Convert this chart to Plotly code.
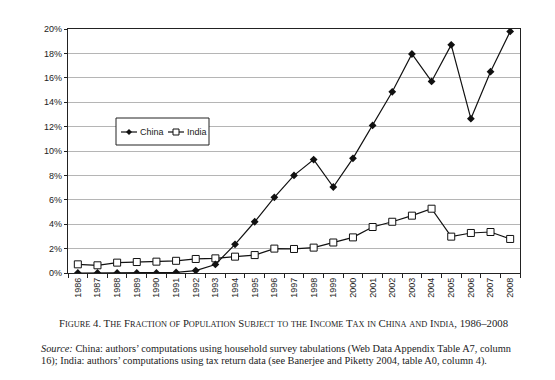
import plotly.graph_objects as go

years = [str(y) for y in range(1986, 2009)]
china = [0.0, 0.0, 0.0, 0.0, 0.0, 0.05, 0.2, 0.7, 2.35, 4.2, 6.2, 8.0, 9.3, 7.05,
         9.4, 12.1, 14.85, 17.95, 15.7, 18.7, 12.65, 16.5, 19.8]
india = [0.71, 0.63, 0.85, 0.9, 0.93, 1.0, 1.15, 1.2, 1.34, 1.47, 2.0, 1.97, 2.08, 2.5,
         2.92, 3.77, 4.2, 4.7, 5.27, 2.98, 3.28, 3.36, 2.79]
y_ticks = list(range(0, 21, 2))
y_tick_labels = [f"{v}%" for v in y_ticks]

W, H = 555, 380
L, R, T, B = 60, 43, 21, 115
PW, PH = W - L - R, H - T - B

def px(x):
    return (x - L) / PW

def py(y):
    return (H - B - y) / PH

fig = go.Figure()
fig.add_trace(go.Scatter(
    x=years, y=india, name="India", mode="lines+markers",
    line=dict(color="#111", width=1.2),
    marker=dict(symbol="square", size=7, color="white", line=dict(color="#111", width=1)),
))
fig.add_trace(go.Scatter(
    x=years, y=china, name="China", mode="lines+markers",
    line=dict(color="#111", width=1.2),
    marker=dict(symbol="diamond", size=6, color="#111", line=dict(color="#111", width=0)),
))

def sc(text, small=8.3):
    out = []
    for word in text.split(" "):
        w = ""
        for ch in word:
            if ch.islower():
                w += f"<span style='font-size:{small}px'>{ch.upper()}</span>"
            else:
                w += ch
        out.append(w)
    return " ".join(out)

caption = sc("Figure 4. The Fraction of Population Subject to the Income Tax in China and India, 1986–2008")
source1 = "<i>Source:</i> China: authors’ computations using household survey tabulations (Web Data Appendix Table A7, column"
source2 = "16); India: authors’ computations using tax return data (see Banerjee and Piketty 2004, table A0, column 4)."

serif = dict(family="Liberation Serif, Times New Roman", size=10.35, color="#222")

# manual legend (decoration)
ly = 124
shapes = [
    dict(type="rect", xref="paper", yref="paper", x0=px(108), x1=px(201), y0=py(137), y1=py(110),
         line=dict(color="#222", width=1), fillcolor="white", layer="above"),
    dict(type="line", xref="paper", yref="paper", x0=px(113), x1=px(129), y0=py(ly), y1=py(ly),
         line=dict(color="#111", width=1.2), layer="above"),
    dict(type="path", xref="paper", yref="paper",
         path=f"M {px(121)} {py(ly-3)} L {px(124)} {py(ly)} L {px(121)} {py(ly+3)} L {px(118)} {py(ly)} Z",
         fillcolor="#111", line=dict(color="#111", width=0), layer="above"),
    dict(type="line", xref="paper", yref="paper", x0=px(160), x1=px(176), y0=py(ly), y1=py(ly),
         line=dict(color="#111", width=1.2), layer="above"),
    dict(type="rect", xref="paper", yref="paper", x0=px(165), x1=px(171), y0=py(ly+3), y1=py(ly-3),
         fillcolor="white", line=dict(color="#111", width=1), layer="above"),
]

annotations = [
    dict(text="China", x=px(130), y=py(ly), xref="paper", yref="paper", showarrow=False,
         xanchor="left", yanchor="middle", font=dict(size=9, color="#222")),
    dict(text="India", x=px(177), y=py(ly), xref="paper", yref="paper", showarrow=False,
         xanchor="left", yanchor="middle", font=dict(size=9, color="#222")),
    dict(text=caption, x=px(275), y=py(315), xref="paper", yref="paper",
         showarrow=False, font=dict(serif, size=10.75), xanchor="center", yanchor="middle"),
    dict(text=source1, x=px(31), y=py(341), xref="paper", yref="paper",
         showarrow=False, align="left", font=serif, xanchor="left", yanchor="middle"),
    dict(text=source2, x=px(31), y=py(353), xref="paper", yref="paper",
         showarrow=False, align="left", font=serif, xanchor="left", yanchor="middle"),
]

fig.update_layout(
    width=W, height=H,
    margin=dict(l=L, r=R, t=T, b=B),
    paper_bgcolor="white", plot_bgcolor="white",
    font=dict(family="Liberation Sans, Arial", size=9, color="#222"),
    showlegend=False,
    xaxis=dict(
        type="category", tickangle=-90, showgrid=False,
        showline=True, linecolor="#222", linewidth=1.2, mirror=True,
        ticks="outside", ticklen=4, tickcolor="#222", tickson="boundaries",
        range=[-0.5, 22.5], tickfont=dict(size=9),
    ),
    yaxis=dict(
        range=[0, 20], tickvals=y_ticks, ticktext=y_tick_labels,
        showgrid=True, gridcolor="#b5b5b5", gridwidth=1,
        showline=True, linecolor="#222", linewidth=1.2, mirror=True,
        ticks="outside", ticklen=3, tickcolor="#222", zeroline=False,
        tickfont=dict(size=9),
    ),
    shapes=shapes,
    annotations=annotations,
)

fig.write_html("out.html")
